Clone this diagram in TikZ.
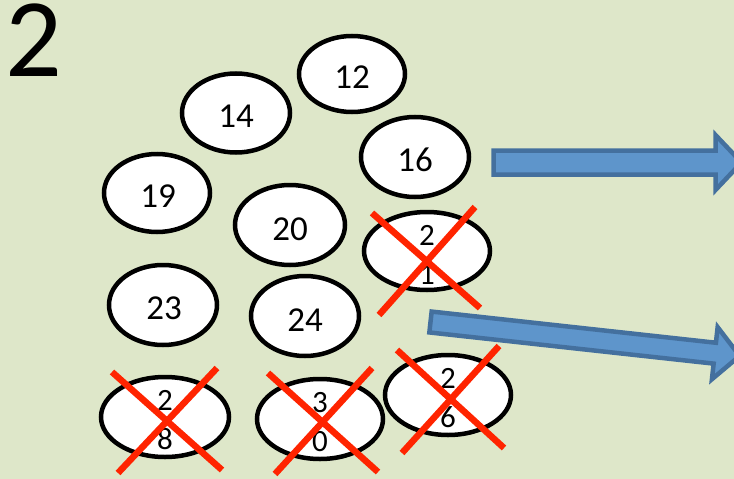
\documentclass[tikz,border=0pt]{standalone}
\usepackage{fontspec}
\setmainfont{Carlito}
\usetikzlibrary{shapes.geometric}

\definecolor{pagebg}{RGB}{222,231,201}
\definecolor{crossred}{RGB}{255,36,0}
\definecolor{arrowfill}{RGB}{94,149,203}
\definecolor{arrowedge}{RGB}{68,112,158}

\tikzset{
  ball/.style n args={2}{ellipse, draw=black, line width=4.5pt, fill=white,
    inner sep=0pt, minimum width=#1pt, minimum height=#2pt},
  num/.style={inner sep=0pt, font=\fontsize{35}{40}\selectfont},
  stacknum/.style={inner sep=0pt, align=center, font=\fontsize{31}{39}\selectfont},
  strike/.style={draw=crossred, line width=6.5pt},
  blockarrow/.style={draw=arrowedge, fill=arrowfill, line width=4.5pt, line join=miter},
}

% block arrow: start point, rotation, shaft half-width, shaft length, head half-width, head length
\newcommand\blockarr[6]{%
  \begin{scope}[shift={#1}, rotate=#2]
    \path[blockarrow] (0,-#3) -- (#4,-#3) -- (#4,-#5) -- ({#4+#6},0)
      -- (#4,#5) -- (#4,#3) -- (0,#3) -- cycle;
  \end{scope}}

\begin{document}
\begin{tikzpicture}[x=1pt, y=-1pt]
  \fill[pagebg] (0,0) rectangle (734,479);
  \useasboundingbox (0,0) rectangle (734,479);
  \clip (0,0) rectangle (734,479);

  % slide number
  \node[anchor=base west, inner sep=0pt, text height=71pt, text depth=0pt,
        font=\fontsize{112}{112}\selectfont] (title) at (5,76) {2};

  % the balls
  \node[ball={106}{76}] (b12) at (352,74) {};
  \node[ball={108}{79}] (b14) at (236,113) {};
  \node[ball={106}{78}] (b19) at (157,193) {};
  \node[ball={110}{80}] (b20) at (290,225) {};
  \node[ball={108}{80}] (b16) at (415,157) {};
  \node[ball={126}{78}] (b21) at (427,251) {};
  \node[ball={108}{80}] (b23) at (163,305) {};
  \node[ball={108}{80}] (b24) at (305,316) {};
  \node[ball={128}{80}] (b28) at (165,417) {};
  \node[ball={126}{80}] (b30) at (320,419) {};
  \node[ball={126}{80}] (b26) at (448,395) {};

  % numbers on the balls
  \node[num] (t12) at ([yshift=-3pt]b12.center) {12};
  \node[num] (t14) at ([yshift=-3pt]b14.center) {14};
  \node[num] (t19) at ([yshift=-3pt,xshift=1pt]b19.center) {19};
  \node[num] (t20) at ([yshift=-4pt]b20.center) {20};
  \node[num] (t16) at ([yshift=-3pt]b16.center) {16};
  \node[num] (t23) at ([yshift=-3pt,xshift=1pt]b23.center) {23};
  \node[num] (t24) at ([yshift=-4pt]b24.center) {24};
  \node[stacknum] (t21) at ([yshift=-4pt]b21.center) {2\\1};
  \node[stacknum] (t28) at ([yshift=-3pt]b28.center) {2\\8};
  \node[stacknum] (t30) at ([yshift=-3pt]b30.center) {3\\0};
  \node[stacknum] (t26) at ([yshift=-3pt]b26.center) {2\\6};

  % struck-out balls
  \draw[strike] (372,213) -- (480,308);
  \draw[strike] (475,207) -- (379,315);
  \draw[strike] (112,372) -- (222,470);
  \draw[strike] (217,368) -- (118,473);
  \draw[strike] (268,373) -- (378,472);
  \draw[strike] (372,368) -- (275,474);
  \draw[strike] (397,350) -- (504,448);
  \draw[strike] (499,346) -- (402,453);

  % block arrows
  \blockarr{(493.5,162.5)}{0}{12}{222}{27.5}{26}
  \blockarr{(430.5,322)}{-6.26}{10.5}{286}{26.2}{25}
\end{tikzpicture}
\end{document}
